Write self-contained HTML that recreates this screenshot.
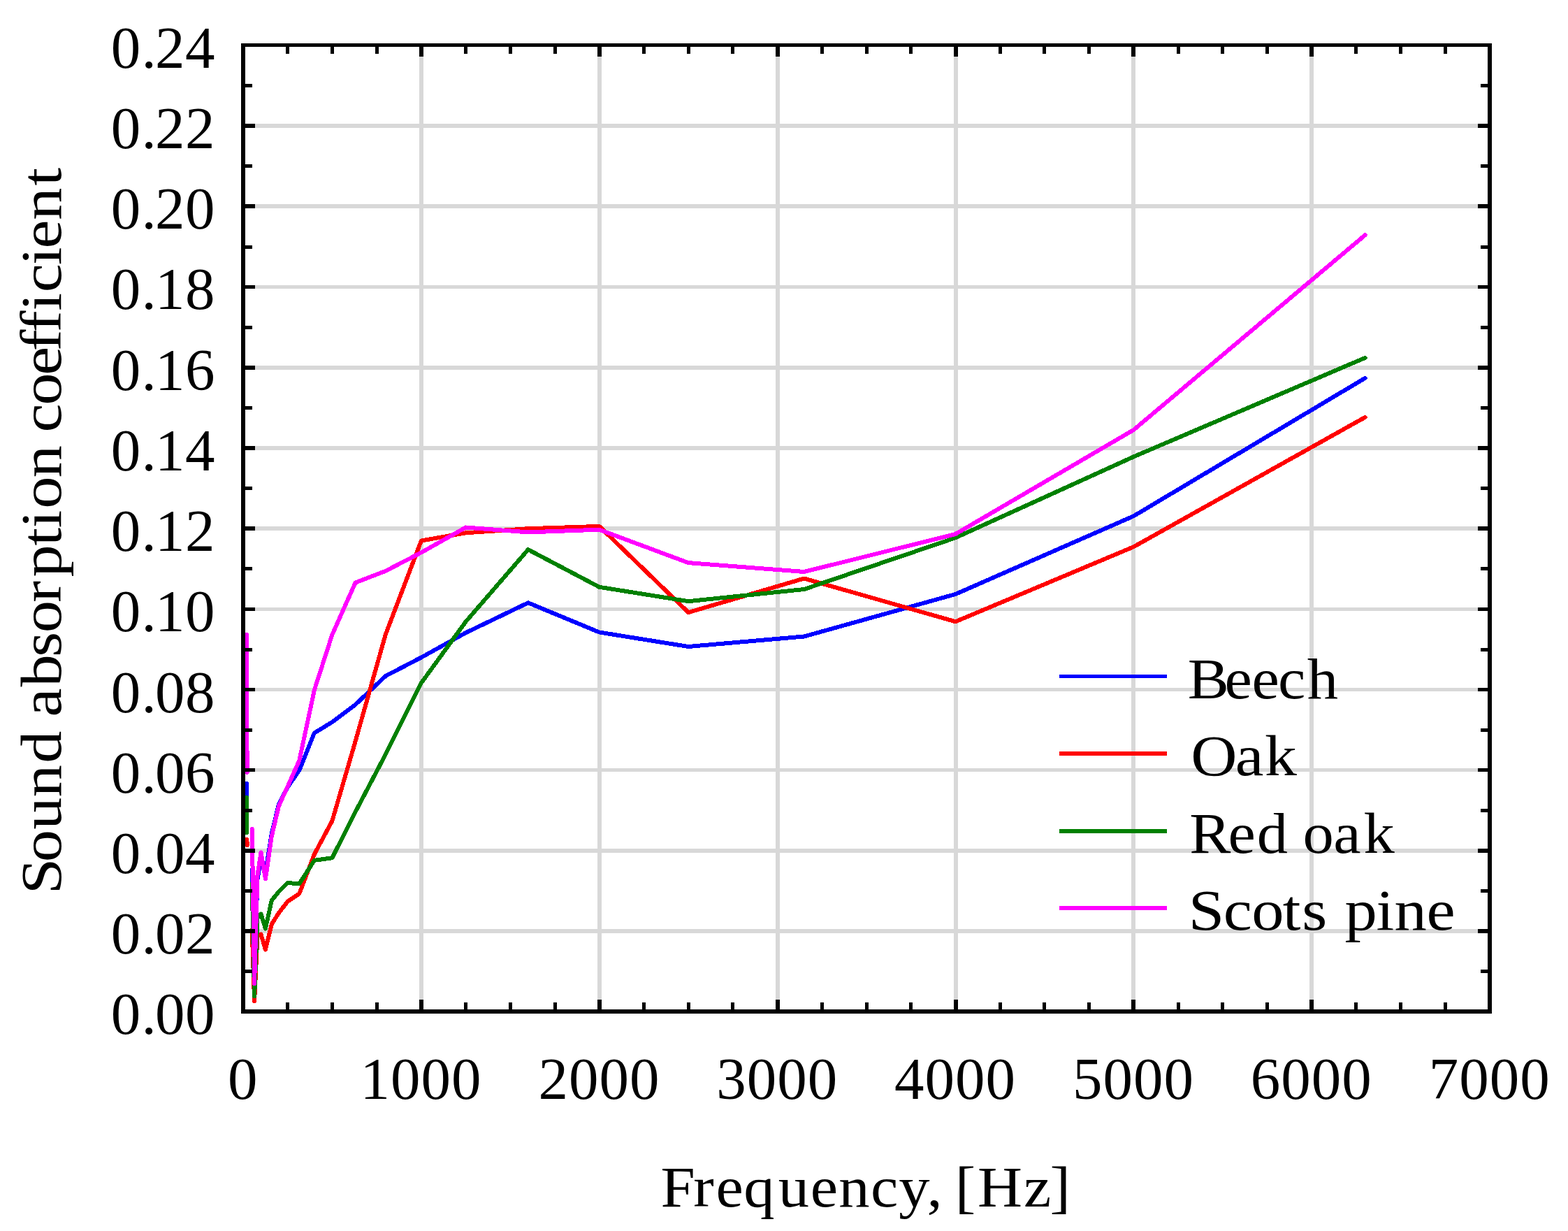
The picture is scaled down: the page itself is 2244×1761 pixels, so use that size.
<!DOCTYPE html>
<html lang="en"><head><meta charset="utf-8"><title>Sound absorption coefficient vs frequency</title>
<style>html,body{margin:0;padding:0;background:#fff}body{width:2244px;height:1761px;overflow:hidden}svg{display:block}text{font-family:"Liberation Serif","DejaVu Serif",serif;fill:#000}</style></head><body>
<svg width="2244" height="1761" viewBox="0 0 2244 1761">
<rect x="0" y="0" width="2244" height="1761" fill="#fff"/>
<g fill="#d8d8d8" shape-rendering="crispEdges">
<rect x="351" y="1329" width="1778" height="6"/>
<rect x="351" y="1214" width="1778" height="6"/>
<rect x="351" y="1099" width="1778" height="5"/>
<rect x="351" y="984" width="1778" height="5"/>
<rect x="351" y="869" width="1778" height="5"/>
<rect x="351" y="753" width="1778" height="6"/>
<rect x="351" y="638" width="1778" height="6"/>
<rect x="351" y="523" width="1778" height="6"/>
<rect x="351" y="408" width="1778" height="5"/>
<rect x="351" y="292" width="1778" height="6"/>
<rect x="351" y="177" width="1778" height="6"/>
<rect x="600" y="67" width="6" height="1377"/>
<rect x="855" y="67" width="6" height="1377"/>
<rect x="1110" y="67" width="6" height="1377"/>
<rect x="1365" y="67" width="6" height="1377"/>
<rect x="1619" y="67" width="6" height="1377"/>
<rect x="1874" y="67" width="6" height="1377"/>
</g>
<g fill="none" stroke-width="6" stroke-linejoin="round" stroke-linecap="round" shape-rendering="crispEdges">
<polyline stroke="#0000ff" points="353.3,1121.0 353.3,1146.0"/>
<polyline stroke="#0000ff" points="360.7,1244.0 364.1,1400.0 368.4,1258.0 373.5,1228.0 379.9,1248.0 388.8,1192.5 399.0,1150.5 411.7,1125.8 428.3,1102.0 449.9,1048.5 475.4,1033.0 508.6,1008.0 551.9,967.0 602.9,940.5 666.6,905.2 755.8,862.3 857.7,904.5 985.1,925.0 1150.8,910.5 1367.4,850.0 1622.3,738.3 1953.6,540.9"/>
<polyline stroke="#ff0000" points="353.3,1201.0 353.8,1209.0"/>
<polyline stroke="#ff0000" points="360.7,1330.0 364.1,1432.0 368.4,1340.0 373.5,1336.5 379.9,1358.5 388.8,1322.0 399.0,1306.0 411.7,1289.5 428.3,1278.5 449.9,1222.0 475.4,1174.3 508.6,1060.5 551.9,907.3 602.9,773.5 666.6,762.3 755.8,756.2 857.7,752.9 985.1,876.1 1150.8,827.5 1367.4,889.3 1622.3,782.3 1953.6,596.9"/>
<polyline stroke="#008000" points="353.3,1141.0 353.3,1191.0"/>
<polyline stroke="#008000" points="360.7,1264.0 364.1,1425.5 368.4,1313.0 373.5,1307.6 379.9,1328.5 388.8,1288.0 399.0,1275.6 411.7,1263.0 428.3,1264.3 449.9,1230.8 475.4,1227.3 508.6,1161.5 551.9,1079.0 602.9,977.0 666.6,889.3 755.8,786.2 857.7,839.8 985.1,860.2 1150.8,843.0 1367.4,769.3 1622.3,653.4 1953.6,511.9"/>
<polyline stroke="#ff00ff" points="353.0,908.0 353.6,1105.0"/>
<polyline stroke="#ff00ff" points="360.7,1186.0 364.1,1407.0 368.4,1253.0 373.5,1219.3 379.9,1257.5 388.8,1196.2 399.0,1153.0 411.7,1125.0 428.3,1088.0 449.9,987.0 475.4,908.0 508.6,833.5 551.9,816.8 602.9,790.4 666.6,754.5 755.8,761.4 857.7,757.7 985.1,805.1 1150.8,818.0 1367.4,764.0 1622.3,615.0 1953.6,336.3"/>
</g>
<g shape-rendering="crispEdges">
<rect x="1516" y="965" width="154" height="5" fill="#0000ff"/>
<rect x="1516" y="1075" width="154" height="6" fill="#ff0000"/>
<rect x="1516" y="1186" width="154" height="6" fill="#008000"/>
<rect x="1516" y="1296" width="154" height="6" fill="#ff00ff"/>
</g>
<g fill="#000" shape-rendering="crispEdges">
<rect x="345" y="62" width="1790" height="5"/>
<rect x="345" y="1444" width="1790" height="6"/>
<rect x="345" y="62" width="6" height="1388"/>
<rect x="2129" y="62" width="6" height="1388"/>
<rect x="409" y="67" width="5" height="10"/>
<rect x="409" y="1434" width="5" height="10"/>
<rect x="473" y="67" width="5" height="10"/>
<rect x="473" y="1434" width="5" height="10"/>
<rect x="537" y="67" width="5" height="10"/>
<rect x="537" y="1434" width="5" height="10"/>
<rect x="600" y="67" width="6" height="14"/>
<rect x="600" y="1430" width="6" height="14"/>
<rect x="664" y="67" width="5" height="10"/>
<rect x="664" y="1434" width="5" height="10"/>
<rect x="728" y="67" width="5" height="10"/>
<rect x="728" y="1434" width="5" height="10"/>
<rect x="792" y="67" width="5" height="10"/>
<rect x="792" y="1434" width="5" height="10"/>
<rect x="855" y="67" width="6" height="14"/>
<rect x="855" y="1430" width="6" height="14"/>
<rect x="919" y="67" width="5" height="10"/>
<rect x="919" y="1434" width="5" height="10"/>
<rect x="983" y="67" width="5" height="10"/>
<rect x="983" y="1434" width="5" height="10"/>
<rect x="1046" y="67" width="5" height="10"/>
<rect x="1046" y="1434" width="5" height="10"/>
<rect x="1110" y="67" width="6" height="14"/>
<rect x="1110" y="1430" width="6" height="14"/>
<rect x="1174" y="67" width="5" height="10"/>
<rect x="1174" y="1434" width="5" height="10"/>
<rect x="1238" y="67" width="5" height="10"/>
<rect x="1238" y="1434" width="5" height="10"/>
<rect x="1301" y="67" width="5" height="10"/>
<rect x="1301" y="1434" width="5" height="10"/>
<rect x="1365" y="67" width="6" height="14"/>
<rect x="1365" y="1430" width="6" height="14"/>
<rect x="1429" y="67" width="5" height="10"/>
<rect x="1429" y="1434" width="5" height="10"/>
<rect x="1492" y="67" width="5" height="10"/>
<rect x="1492" y="1434" width="5" height="10"/>
<rect x="1556" y="67" width="5" height="10"/>
<rect x="1556" y="1434" width="5" height="10"/>
<rect x="1619" y="67" width="6" height="14"/>
<rect x="1619" y="1430" width="6" height="14"/>
<rect x="1684" y="67" width="5" height="10"/>
<rect x="1684" y="1434" width="5" height="10"/>
<rect x="1747" y="67" width="5" height="10"/>
<rect x="1747" y="1434" width="5" height="10"/>
<rect x="1811" y="67" width="5" height="10"/>
<rect x="1811" y="1434" width="5" height="10"/>
<rect x="1874" y="67" width="6" height="14"/>
<rect x="1874" y="1430" width="6" height="14"/>
<rect x="1938" y="67" width="5" height="10"/>
<rect x="1938" y="1434" width="5" height="10"/>
<rect x="2002" y="67" width="5" height="10"/>
<rect x="2002" y="1434" width="5" height="10"/>
<rect x="2066" y="67" width="5" height="10"/>
<rect x="2066" y="1434" width="5" height="10"/>
<rect x="351" y="1387" width="10" height="5"/>
<rect x="2119" y="1387" width="10" height="5"/>
<rect x="351" y="1329" width="14" height="6"/>
<rect x="2115" y="1329" width="14" height="6"/>
<rect x="351" y="1272" width="10" height="5"/>
<rect x="2119" y="1272" width="10" height="5"/>
<rect x="351" y="1214" width="14" height="6"/>
<rect x="2115" y="1214" width="14" height="6"/>
<rect x="351" y="1157" width="10" height="5"/>
<rect x="2119" y="1157" width="10" height="5"/>
<rect x="351" y="1099" width="14" height="5"/>
<rect x="2115" y="1099" width="14" height="5"/>
<rect x="351" y="1042" width="10" height="5"/>
<rect x="2119" y="1042" width="10" height="5"/>
<rect x="351" y="984" width="14" height="5"/>
<rect x="2115" y="984" width="14" height="5"/>
<rect x="351" y="927" width="10" height="5"/>
<rect x="2119" y="927" width="10" height="5"/>
<rect x="351" y="869" width="14" height="5"/>
<rect x="2115" y="869" width="14" height="5"/>
<rect x="351" y="811" width="10" height="5"/>
<rect x="2119" y="811" width="10" height="5"/>
<rect x="351" y="753" width="14" height="6"/>
<rect x="2115" y="753" width="14" height="6"/>
<rect x="351" y="696" width="10" height="5"/>
<rect x="2119" y="696" width="10" height="5"/>
<rect x="351" y="638" width="14" height="6"/>
<rect x="2115" y="638" width="14" height="6"/>
<rect x="351" y="581" width="10" height="5"/>
<rect x="2119" y="581" width="10" height="5"/>
<rect x="351" y="523" width="14" height="6"/>
<rect x="2115" y="523" width="14" height="6"/>
<rect x="351" y="466" width="10" height="5"/>
<rect x="2119" y="466" width="10" height="5"/>
<rect x="351" y="408" width="14" height="5"/>
<rect x="2115" y="408" width="14" height="5"/>
<rect x="351" y="351" width="10" height="5"/>
<rect x="2119" y="351" width="10" height="5"/>
<rect x="351" y="292" width="14" height="6"/>
<rect x="2115" y="292" width="14" height="6"/>
<rect x="351" y="235" width="10" height="5"/>
<rect x="2119" y="235" width="10" height="5"/>
<rect x="351" y="177" width="14" height="6"/>
<rect x="2115" y="177" width="14" height="6"/>
<rect x="351" y="120" width="10" height="5"/>
<rect x="2119" y="120" width="10" height="5"/>
</g>
<text x="158.7 202.5 222.0 265.0" y="1479.3" font-size="85">0.00</text>
<text x="158.7 202.5 222.0 265.0" y="1364.1" font-size="85">0.02</text>
<text x="158.7 202.5 222.0 265.0" y="1248.9" font-size="85">0.04</text>
<text x="158.7 202.5 222.0 265.0" y="1133.7" font-size="85">0.06</text>
<text x="158.7 202.5 222.0 265.0" y="1018.5" font-size="85">0.08</text>
<text x="158.7 202.5 222.0 265.0" y="903.3" font-size="85">0.10</text>
<text x="158.7 202.5 222.0 265.0" y="788.1" font-size="85">0.12</text>
<text x="158.7 202.5 222.0 265.0" y="672.8" font-size="85">0.14</text>
<text x="158.7 202.5 222.0 265.0" y="557.6" font-size="85">0.16</text>
<text x="158.7 202.5 222.0 265.0" y="442.4" font-size="85">0.18</text>
<text x="158.7 202.5 222.0 265.0" y="327.2" font-size="85">0.20</text>
<text x="158.7 202.5 222.0 265.0" y="212.0" font-size="85">0.22</text>
<text x="158.7 202.5 222.0 265.0" y="96.8" font-size="85">0.24</text>
<text x="325.9" y="1571.5" font-size="85">0</text>
<text x="515.5 559.0 602.5 646.0" y="1571.5" font-size="85">1000</text>
<text x="770.4 813.9 857.4 900.9" y="1571.5" font-size="85">2000</text>
<text x="1025.2 1068.7 1112.2 1155.7" y="1571.5" font-size="85">3000</text>
<text x="1280.1 1323.6 1367.1 1410.6" y="1571.5" font-size="85">4000</text>
<text x="1534.9 1578.4 1621.9 1665.4" y="1571.5" font-size="85">5000</text>
<text x="1789.8 1833.3 1876.8 1920.3" y="1571.5" font-size="85">6000</text>
<text x="2044.7 2088.2 2131.7 2175.2" y="1571.5" font-size="85">7000</text>
<text transform="translate(86.9 0) rotate(-90) scale(1.1272 1)" x="-1134.79 -1094.14 -1052.94 -1011.55 -968.59 -927.59 -909.87 -871.73 -833.71 -803.16 -764.41 -732.36 -692.68 -670.19 -645.57 -606.27 -565.27 -548.64 -514.32 -476.17 -445.66 -421.62 -394.65 -371.09 -336.45 -315.34 -279.28 -235.76" y="0" font-size="82.0">Sound absorption coefficient</text>
<text transform="translate(0 1725.9) scale(1.08 1)" x="875.56 918.79 948.57 985.51 1031.29 1073.75 1111.46 1153.72 1190.90 1228.20 1248.70 1265.54 1295.38 1356.49 1391.16" y="0" font-size="82.0">Frequency, [Hz]</text>
<text transform="translate(0 999.0) scale(1.08 1)" x="1573.96 1622.74 1658.89 1693.58 1732.14" y="0" font-size="82.0">Beech</text>
<text transform="translate(0 1109.4) scale(1.119 1)" x="1523.03 1579.75 1617.55" y="0" font-size="82.0">Oak</text>
<text transform="translate(0 1219.7) scale(1.08 1)" x="1576.13 1627.41 1665.44 1706.44 1726.35 1766.91 1806.94" y="0" font-size="82.0">Red oak</text>
<text transform="translate(0 1329.8) scale(1.13 1)" x="1505.05 1549.38 1585.08 1624.47 1648.95 1680.86 1703.09 1742.84 1766.00 1806.76" y="0" font-size="82.0">Scots pine</text>
</svg></body></html>
